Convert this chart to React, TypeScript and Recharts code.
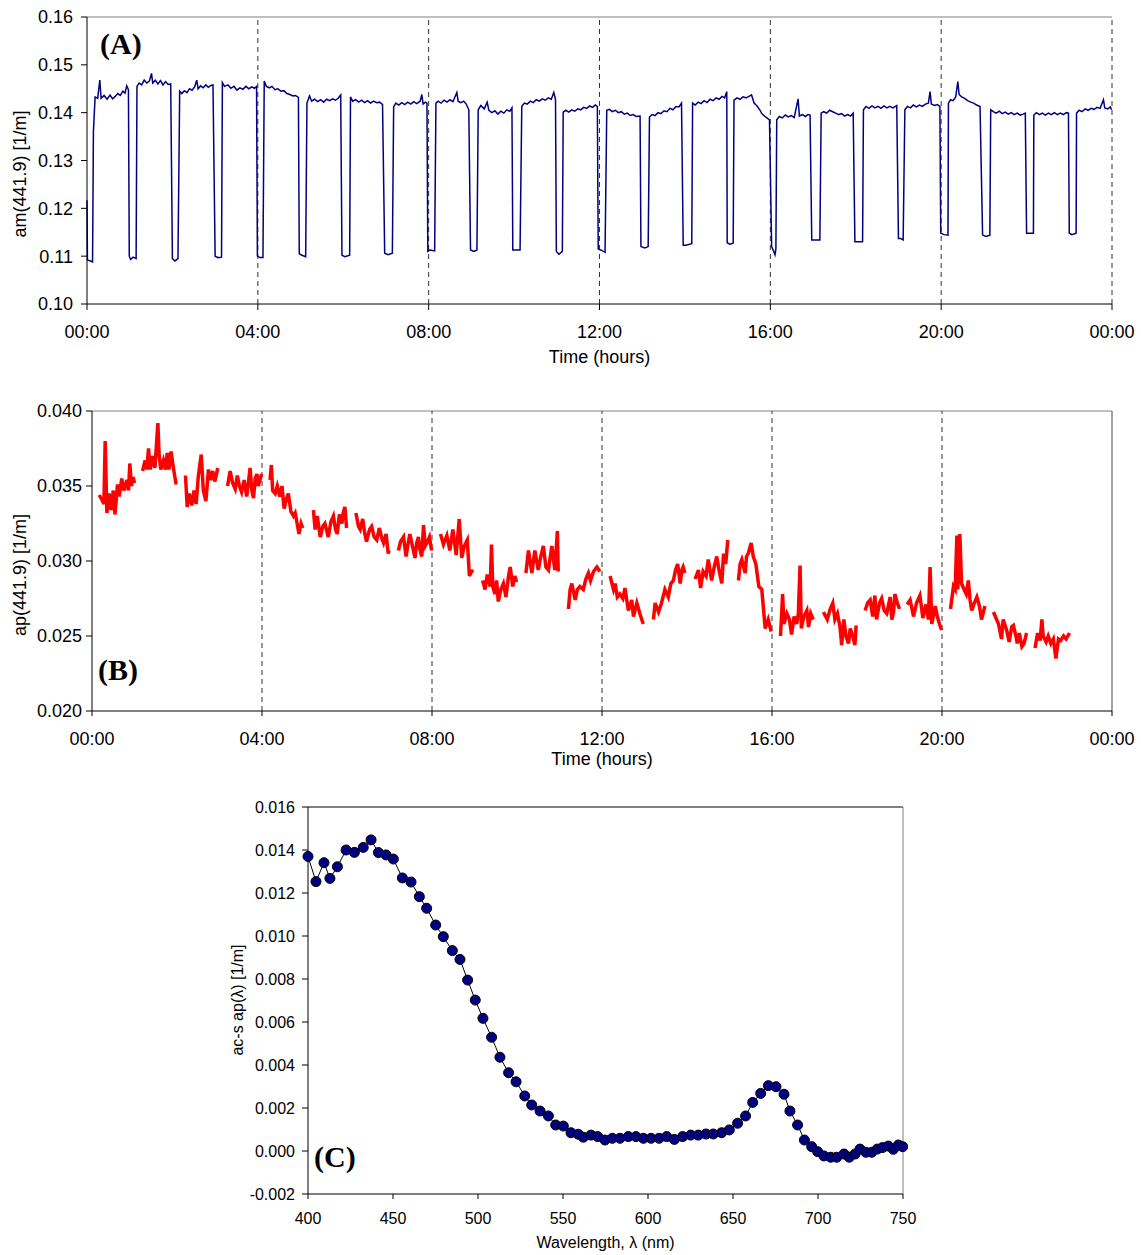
import { LineChart, Line, XAxis, YAxis, ReferenceLine } from "recharts"

// ---- shared axis settings ----
const hourTicks = [0, 4, 8, 12, 16, 20, 24]
const gridHours = [4, 8, 12, 16, 20]
const amTicks = [0.1, 0.11, 0.12, 0.13, 0.14, 0.15, 0.16]
const apTicks = [0.02, 0.025, 0.03, 0.035, 0.04]
const specTicks = [-0.002, 0, 0.002, 0.004, 0.006, 0.008, 0.01, 0.012, 0.014, 0.016]
const waveTicks = [400, 450, 500, 550, 600, 650, 700, 750]

// ---- (A) am(441.9), [hour, 1/m] ----
const amSeries: [number, number][] = [
  [0.00, 0.1217], [0.01, 0.1092], [0.08, 0.1090], [0.13, 0.1088],
  [0.15, 0.1360], [0.19, 0.1433], [0.25, 0.1430], [0.30, 0.1468], [0.33, 0.1430], [0.40, 0.1436], [0.47, 0.1428], [0.54, 0.1437], [0.60, 0.1429], [0.66, 0.1434], [0.72, 0.1440], [0.78, 0.1436], [0.84, 0.1445], [0.89, 0.1441], [0.93, 0.1456], [0.97, 0.1448],
  [0.99, 0.1100], [1.02, 0.1093], [1.08, 0.1098], [1.15, 0.1095],
  [1.17, 0.1455], [1.22, 0.1462], [1.28, 0.1458], [1.34, 0.1468], [1.40, 0.1462], [1.46, 0.1466], [1.51, 0.1482], [1.54, 0.1462], [1.60, 0.1468], [1.66, 0.1460], [1.72, 0.1467], [1.78, 0.1458], [1.84, 0.1465], [1.90, 0.1459], [1.96, 0.1460],
  [2.00, 0.1095], [2.06, 0.1090], [2.13, 0.1095],
  [2.17, 0.1445], [2.22, 0.1440], [2.28, 0.1446], [2.34, 0.1442], [2.40, 0.1450], [2.46, 0.1447], [2.52, 0.1454], [2.57, 0.1468], [2.60, 0.1450], [2.66, 0.1456], [2.72, 0.1452], [2.78, 0.1458], [2.84, 0.1453], [2.90, 0.1457], [2.95, 0.1458],
  [3.00, 0.1100], [3.07, 0.1097], [3.15, 0.1098],
  [3.17, 0.1463], [3.22, 0.1455], [3.30, 0.1458], [3.37, 0.1451], [3.44, 0.1455], [3.51, 0.1447], [3.58, 0.1452], [3.65, 0.1449], [3.72, 0.1455], [3.79, 0.1450], [3.86, 0.1454], [3.92, 0.1451], [3.97, 0.1455],
  [3.99, 0.1100], [4.05, 0.1097], [4.12, 0.1097],
  [4.15, 0.1466], [4.20, 0.1455], [4.27, 0.1452], [4.33, 0.1455], [4.40, 0.1448], [4.47, 0.1450], [4.54, 0.1445], [4.61, 0.1446], [4.68, 0.1440], [4.75, 0.1438], [4.82, 0.1435], [4.88, 0.1436], [4.95, 0.1432],
  [4.97, 0.1105], [5.03, 0.1102], [5.12, 0.1099],
  [5.15, 0.1420], [5.21, 0.1435], [5.26, 0.1424], [5.33, 0.1428], [5.40, 0.1423], [5.47, 0.1427], [5.54, 0.1422], [5.61, 0.1428], [5.68, 0.1425], [5.75, 0.1429], [5.82, 0.1426], [5.88, 0.1430], [5.94, 0.1437],
  [5.97, 0.1102], [6.04, 0.1099], [6.15, 0.1102],
  [6.17, 0.1433], [6.22, 0.1424], [6.29, 0.1427], [6.36, 0.1422], [6.43, 0.1426], [6.50, 0.1421], [6.57, 0.1425], [6.64, 0.1420], [6.71, 0.1424], [6.78, 0.1421], [6.85, 0.1422], [6.92, 0.1417],
  [6.97, 0.1106], [7.05, 0.1103], [7.15, 0.1106],
  [7.18, 0.1412], [7.23, 0.1420], [7.30, 0.1416], [7.37, 0.1421], [7.44, 0.1417], [7.51, 0.1422], [7.58, 0.1418], [7.65, 0.1423], [7.72, 0.1419], [7.80, 0.1424], [7.84, 0.1438], [7.87, 0.1418], [7.92, 0.1422], [7.96, 0.1420],
  [7.98, 0.1110], [8.03, 0.1113], [8.14, 0.1111],
  [8.17, 0.1420], [8.22, 0.1424], [8.29, 0.1420], [8.36, 0.1426], [8.43, 0.1422], [8.50, 0.1427], [8.57, 0.1423], [8.66, 0.1442], [8.69, 0.1424], [8.75, 0.1421], [8.82, 0.1424], [8.88, 0.1418], [8.94, 0.1406],
  [8.98, 0.1113], [9.06, 0.1110], [9.13, 0.1113],
  [9.16, 0.1406], [9.22, 0.1415], [9.30, 0.1408], [9.37, 0.1422], [9.41, 0.1405], [9.48, 0.1400], [9.55, 0.1404], [9.62, 0.1397], [9.69, 0.1403], [9.76, 0.1399], [9.83, 0.1406], [9.90, 0.1403], [9.95, 0.1410],
  [9.97, 0.1113], [10.04, 0.1113], [10.14, 0.1113],
  [10.18, 0.1413], [10.24, 0.1420], [10.31, 0.1418], [10.38, 0.1424], [10.45, 0.1421], [10.52, 0.1427], [10.59, 0.1424], [10.66, 0.1429], [10.73, 0.1426], [10.80, 0.1431], [10.87, 0.1428], [10.93, 0.1442], [10.97, 0.1428],
  [10.99, 0.1110], [11.05, 0.1104], [11.13, 0.1110],
  [11.15, 0.1401], [11.21, 0.1405], [11.28, 0.1401], [11.35, 0.1406], [11.42, 0.1403], [11.49, 0.1408], [11.56, 0.1406], [11.63, 0.1411], [11.70, 0.1409], [11.77, 0.1414], [11.84, 0.1411], [11.90, 0.1416], [11.95, 0.1413],
  [11.97, 0.1115], [12.03, 0.1113], [12.13, 0.1108],
  [12.17, 0.1405], [12.23, 0.1407], [12.30, 0.1402], [12.37, 0.1405], [12.44, 0.1400], [12.51, 0.1402], [12.58, 0.1397], [12.65, 0.1399], [12.72, 0.1394], [12.79, 0.1396], [12.86, 0.1392], [12.95, 0.1393],
  [12.97, 0.1120], [13.06, 0.1117], [13.14, 0.1120],
  [13.17, 0.1391], [13.23, 0.1396], [13.30, 0.1394], [13.37, 0.1400], [13.44, 0.1398], [13.51, 0.1404], [13.58, 0.1402], [13.65, 0.1409], [13.72, 0.1406], [13.79, 0.1413], [13.86, 0.1412], [13.92, 0.1420],
  [13.96, 0.1123], [14.02, 0.1123], [14.16, 0.1126],
  [14.18, 0.1420], [14.24, 0.1416], [14.31, 0.1422], [14.38, 0.1419], [14.45, 0.1425], [14.52, 0.1421], [14.59, 0.1428], [14.66, 0.1425], [14.73, 0.1431], [14.80, 0.1428], [14.87, 0.1434], [14.93, 0.1431], [14.98, 0.1444],
  [14.99, 0.1128], [15.05, 0.1125], [15.13, 0.1127],
  [15.15, 0.1426], [15.22, 0.1431], [15.29, 0.1428], [15.36, 0.1433], [15.43, 0.1431], [15.50, 0.1434], [15.56, 0.1437], [15.62, 0.1420], [15.69, 0.1414], [15.76, 0.1405], [15.80, 0.1398], [15.86, 0.1393], [15.92, 0.1389], [15.98, 0.1385],
  [16.00, 0.1280], [16.03, 0.1120], [16.08, 0.1110], [16.11, 0.1103], [16.13, 0.1115],
  [16.15, 0.1385], [16.21, 0.1392], [16.28, 0.1389], [16.35, 0.1395], [16.42, 0.1391], [16.49, 0.1394], [16.56, 0.1390], [16.65, 0.1429], [16.68, 0.1393], [16.75, 0.1396], [16.82, 0.1392], [16.88, 0.1396], [16.93, 0.1395],
  [16.97, 0.1134], [17.05, 0.1134], [17.16, 0.1134],
  [17.19, 0.1399], [17.25, 0.1402], [17.32, 0.1399], [17.39, 0.1405], [17.46, 0.1402], [17.53, 0.1399], [17.60, 0.1396], [17.67, 0.1398], [17.74, 0.1393], [17.81, 0.1396], [17.88, 0.1393], [17.94, 0.1399],
  [17.98, 0.1130], [18.05, 0.1130], [18.16, 0.1130],
  [18.18, 0.1406], [18.24, 0.1413], [18.31, 0.1409], [18.38, 0.1414], [18.45, 0.1410], [18.52, 0.1413], [18.59, 0.1409], [18.66, 0.1414], [18.73, 0.1410], [18.80, 0.1413], [18.87, 0.1410], [18.96, 0.1415],
  [19.00, 0.1137], [19.05, 0.1137], [19.11, 0.1134],
  [19.15, 0.1406], [19.21, 0.1413], [19.28, 0.1410], [19.35, 0.1416], [19.42, 0.1412], [19.49, 0.1416], [19.56, 0.1413], [19.63, 0.1418], [19.70, 0.1420], [19.74, 0.1444], [19.77, 0.1418], [19.84, 0.1415], [19.91, 0.1417], [19.97, 0.1413],
  [19.99, 0.1148], [20.07, 0.1145], [20.16, 0.1144],
  [20.17, 0.1420], [20.22, 0.1427], [20.28, 0.1425], [20.34, 0.1433], [20.39, 0.1465], [20.42, 0.1438], [20.48, 0.1433], [20.55, 0.1430], [20.62, 0.1425], [20.69, 0.1422], [20.76, 0.1420], [20.83, 0.1416], [20.91, 0.1413],
  [20.97, 0.1144], [21.05, 0.1141], [21.14, 0.1144],
  [21.16, 0.1406], [21.22, 0.1402], [21.29, 0.1399], [21.36, 0.1403], [21.43, 0.1398], [21.50, 0.1401], [21.57, 0.1397], [21.64, 0.1400], [21.71, 0.1396], [21.78, 0.1399], [21.85, 0.1395], [21.92, 0.1397], [21.97, 0.1399],
  [22.00, 0.1148], [22.08, 0.1148], [22.16, 0.1148],
  [22.17, 0.1395], [22.23, 0.1400], [22.30, 0.1396], [22.37, 0.1399], [22.44, 0.1395], [22.51, 0.1399], [22.58, 0.1396], [22.65, 0.1400], [22.72, 0.1396], [22.79, 0.1399], [22.86, 0.1396], [22.93, 0.1400], [22.98, 0.1399],
  [23.00, 0.1148], [23.06, 0.1145], [23.16, 0.1148],
  [23.17, 0.1399], [23.23, 0.1405], [23.30, 0.1402], [23.37, 0.1408], [23.44, 0.1405], [23.51, 0.1409], [23.58, 0.1407], [23.65, 0.1411], [23.72, 0.1409], [23.80, 0.1427], [23.83, 0.1410], [23.90, 0.1408], [23.96, 0.1412], [23.99, 0.1406],
]

// ---- (B) ap(441.9), [hour, 1/m]; null = filter period (gap) ----
const apSeries: [number, number | null][] = [
  [0.17, 0.0344], [0.23, 0.0341], [0.28, 0.0338], [0.31, 0.0380], [0.35, 0.0332], [0.40, 0.0345], [0.45, 0.0334], [0.50, 0.0347], [0.54, 0.0331], [0.60, 0.0351], [0.64, 0.0343], [0.70, 0.0355], [0.75, 0.0347], [0.82, 0.0354], [0.86, 0.0347], [0.89, 0.0365], [0.93, 0.0350], [0.97, 0.0356], [1.00, 0.0352],
  [1.09, null],
  [1.19, 0.0360], [1.25, 0.0367], [1.29, 0.0361], [1.33, 0.0375], [1.37, 0.0361], [1.43, 0.0370], [1.48, 0.0362], [1.55, 0.0392], [1.58, 0.0370], [1.62, 0.0361], [1.68, 0.0367], [1.73, 0.0361], [1.77, 0.0372], [1.81, 0.0361], [1.86, 0.0373], [1.91, 0.0363], [1.95, 0.0356], [1.98, 0.0351],
  [2.09, null],
  [2.20, 0.0357], [2.24, 0.0336], [2.29, 0.0345], [2.35, 0.0337], [2.40, 0.0347], [2.45, 0.0338], [2.50, 0.0356], [2.57, 0.0371], [2.62, 0.0347], [2.68, 0.0340], [2.74, 0.0361], [2.79, 0.0354], [2.84, 0.0360], [2.89, 0.0353], [2.96, 0.0362],
  [3.07, null],
  [3.19, 0.0350], [3.25, 0.0360], [3.31, 0.0352], [3.37, 0.0348], [3.42, 0.0357], [3.47, 0.0350], [3.52, 0.0346], [3.58, 0.0354], [3.64, 0.0343], [3.68, 0.0352], [3.72, 0.0362], [3.76, 0.0347], [3.80, 0.0342], [3.84, 0.0355], [3.88, 0.0358], [3.91, 0.0350], [3.95, 0.0354], [3.99, 0.0358],
  [4.09, null],
  [4.19, 0.0354], [4.22, 0.0364], [4.25, 0.0347], [4.31, 0.0345], [4.36, 0.0350], [4.42, 0.0343], [4.47, 0.0350], [4.52, 0.0335], [4.57, 0.0341], [4.62, 0.0345], [4.68, 0.0333], [4.74, 0.0330], [4.78, 0.0332], [4.82, 0.0326], [4.87, 0.0318], [4.92, 0.0325], [4.96, 0.0322],
  [5.08, null],
  [5.21, 0.0334], [5.25, 0.0321], [5.30, 0.0330], [5.37, 0.0316], [5.43, 0.0323], [5.48, 0.0325], [5.56, 0.0316], [5.62, 0.0326], [5.68, 0.0330], [5.73, 0.0321], [5.77, 0.0318], [5.82, 0.0331], [5.88, 0.0325], [5.91, 0.0332], [5.95, 0.0336], [5.99, 0.0322],
  [6.10, null],
  [6.21, 0.0332], [6.27, 0.0323], [6.31, 0.0321], [6.37, 0.0328], [6.42, 0.0318], [6.46, 0.0313], [6.53, 0.0321], [6.58, 0.0323], [6.64, 0.0316], [6.70, 0.0314], [6.76, 0.0322], [6.82, 0.0315], [6.86, 0.0312], [6.92, 0.0318], [6.97, 0.0305], [6.99, 0.0307],
  [7.10, null],
  [7.21, 0.0307], [7.26, 0.0313], [7.33, 0.0316], [7.39, 0.0303], [7.44, 0.0312], [7.48, 0.0318], [7.54, 0.0310], [7.60, 0.0302], [7.64, 0.0312], [7.68, 0.0316], [7.72, 0.0307], [7.76, 0.0303], [7.80, 0.0324], [7.84, 0.0310], [7.88, 0.0312], [7.94, 0.0316], [7.99, 0.0307],
  [8.10, null],
  [8.20, 0.0318], [8.27, 0.0311], [8.35, 0.0317], [8.42, 0.0307], [8.49, 0.0321], [8.57, 0.0304], [8.64, 0.0328], [8.70, 0.0302], [8.76, 0.0310], [8.83, 0.0314], [8.88, 0.0290], [8.93, 0.0293], [8.97, 0.0294],
  [9.08, null],
  [9.19, 0.0287], [9.25, 0.0281], [9.30, 0.0291], [9.37, 0.0283], [9.40, 0.0311], [9.43, 0.0283], [9.48, 0.0278], [9.52, 0.0287], [9.56, 0.0273], [9.62, 0.0281], [9.68, 0.0285], [9.74, 0.0276], [9.80, 0.0290], [9.84, 0.0296], [9.90, 0.0283], [9.95, 0.0290], [9.99, 0.0286],
  [10.10, null],
  [10.21, 0.0292], [10.27, 0.0307], [10.35, 0.0292], [10.42, 0.0307], [10.50, 0.0294], [10.56, 0.0303], [10.62, 0.0310], [10.68, 0.0296], [10.74, 0.0294], [10.82, 0.0310], [10.89, 0.0294], [10.95, 0.0320], [10.97, 0.0293],
  [11.09, null],
  [11.21, 0.0268], [11.25, 0.0281], [11.29, 0.0285], [11.37, 0.0274], [11.42, 0.0281], [11.48, 0.0283], [11.56, 0.0281], [11.62, 0.0288], [11.68, 0.0292], [11.73, 0.0287], [11.80, 0.0293], [11.88, 0.0296], [11.95, 0.0293],
  [12.07, null],
  [12.19, 0.0290], [12.27, 0.0281], [12.31, 0.0285], [12.36, 0.0276], [12.42, 0.0278], [12.49, 0.0275], [12.54, 0.0282], [12.62, 0.0267], [12.70, 0.0274], [12.74, 0.0263], [12.82, 0.0272], [12.89, 0.0265], [12.97, 0.0258],
  [13.09, null],
  [13.21, 0.0261], [13.25, 0.0272], [13.33, 0.0266], [13.40, 0.0272], [13.48, 0.0281], [13.56, 0.0276], [13.62, 0.0285], [13.68, 0.0287], [13.73, 0.0294], [13.78, 0.0298], [13.84, 0.0285], [13.88, 0.0294], [13.91, 0.0296], [13.95, 0.0292],
  [14.07, null],
  [14.19, 0.0288], [14.27, 0.0294], [14.32, 0.0282], [14.38, 0.0293], [14.45, 0.0290], [14.50, 0.0301], [14.58, 0.0287], [14.64, 0.0296], [14.70, 0.0303], [14.76, 0.0293], [14.82, 0.0285], [14.86, 0.0305], [14.91, 0.0298], [14.96, 0.0314],
  [15.08, null],
  [15.21, 0.0287], [15.25, 0.0298], [15.29, 0.0301], [15.37, 0.0292], [15.40, 0.0303], [15.44, 0.0305], [15.51, 0.0312], [15.56, 0.0303], [15.62, 0.0298], [15.69, 0.0283], [15.76, 0.0281], [15.84, 0.0255], [15.91, 0.0261], [15.98, 0.0253],
  [16.09, null],
  [16.20, 0.0250], [16.25, 0.0278], [16.28, 0.0258], [16.35, 0.0265], [16.41, 0.0261], [16.46, 0.0251], [16.52, 0.0263], [16.58, 0.0258], [16.62, 0.0265], [16.66, 0.0297], [16.69, 0.0255], [16.75, 0.0263], [16.82, 0.0267], [16.86, 0.0256], [16.91, 0.0265], [16.97, 0.0261],
  [17.09, null],
  [17.21, 0.0266], [17.30, 0.0261], [17.37, 0.0268], [17.43, 0.0272], [17.48, 0.0261], [17.54, 0.0265], [17.60, 0.0256], [17.64, 0.0244], [17.69, 0.0261], [17.74, 0.0250], [17.80, 0.0245], [17.84, 0.0255], [17.90, 0.0250], [17.95, 0.0244], [17.98, 0.0257],
  [18.08, null],
  [18.19, 0.0267], [18.25, 0.0272], [18.31, 0.0274], [18.37, 0.0263], [18.42, 0.0277], [18.46, 0.0261], [18.53, 0.0272], [18.58, 0.0275], [18.64, 0.0267], [18.70, 0.0265], [18.78, 0.0276], [18.82, 0.0261], [18.86, 0.0266], [18.89, 0.0278], [18.95, 0.0272], [19.00, 0.0268],
  [19.09, null],
  [19.18, 0.0271], [19.25, 0.0274], [19.33, 0.0263], [19.40, 0.0272], [19.48, 0.0277], [19.55, 0.0262], [19.62, 0.0271], [19.68, 0.0261], [19.72, 0.0296], [19.76, 0.0258], [19.84, 0.0270], [19.89, 0.0263], [19.94, 0.0258], [19.99, 0.0254],
  [20.10, null],
  [20.20, 0.0268], [20.27, 0.0283], [20.31, 0.0281], [20.35, 0.0317], [20.37, 0.0281], [20.42, 0.0318], [20.46, 0.0285], [20.52, 0.0281], [20.57, 0.0278], [20.62, 0.0287], [20.66, 0.0274], [20.70, 0.0267], [20.76, 0.0272], [20.82, 0.0276], [20.88, 0.0270], [20.93, 0.0261], [21.01, 0.0270],
  [21.10, null],
  [21.21, 0.0266], [21.27, 0.0262], [21.33, 0.0258], [21.40, 0.0248], [21.44, 0.0261], [21.52, 0.0254], [21.58, 0.0246], [21.64, 0.0256], [21.68, 0.0257], [21.74, 0.0250], [21.77, 0.0245], [21.82, 0.0252], [21.88, 0.0243], [21.93, 0.0245], [21.99, 0.0252],
  [22.09, null],
  [22.19, 0.0242], [22.25, 0.0252], [22.31, 0.0247], [22.35, 0.0261], [22.38, 0.0250], [22.45, 0.0246], [22.50, 0.0250], [22.56, 0.0245], [22.62, 0.0248], [22.68, 0.0235], [22.74, 0.0248], [22.79, 0.0247], [22.86, 0.0250], [22.92, 0.0248], [23.00, 0.0252],
]

// ---- (C) ac-s particulate absorption spectrum ----
const wavelengths = [
  400.0, 404.7, 409.4, 412.9, 417.3, 422.4, 427.3, 432.5, 437.1, 441.4, 445.9, 450.2,
  455.5, 460.6, 465.5, 469.8, 475.1, 479.6, 484.9, 489.4, 493.9, 498.4, 502.9,
  508.0, 512.9, 518.0, 522.4, 527.5, 531.6, 536.5, 541.4, 545.7,
  550.2, 554.7, 559.0,
  562.0, 566.5, 570.4, 574.7, 579.0, 583.5, 588.4, 592.9, 597.3,
  601.8, 606.5, 611.0, 615.5, 620.4, 625.1, 629.6, 634.1, 638.4, 643.3, 647.8,
  652.7, 657.4, 661.6, 666.3, 670.8, 675.3, 680.0, 683.5, 688.0,
  692.0, 696.3, 699.8, 703.5, 707.5, 711.0, 715.3, 718.4, 721.8, 724.7, 728.2,
  731.6, 734.9, 738.0, 741.4, 744.3, 747.3, 749.8,
]
const apSpectrum = [
  0.01370, 0.01253, 0.01341, 0.01268, 0.01322, 0.01400, 0.01389, 0.01412, 0.01447, 0.01388, 0.01377, 0.01358,
  0.01270, 0.01251, 0.01183, 0.01129, 0.01051, 0.00997, 0.00932, 0.00891, 0.00795, 0.00702, 0.00617,
  0.00529, 0.00436, 0.00364, 0.00322, 0.00256, 0.00214, 0.00186, 0.00163, 0.00121,
  0.00116, 0.00085, 0.00078,
  0.00064, 0.00074, 0.00067, 0.00051, 0.00059, 0.00059, 0.00067, 0.00067, 0.00059,
  0.00059, 0.00059, 0.00067, 0.00054, 0.00067, 0.00074, 0.00074, 0.00079, 0.00079, 0.00085, 0.00098,
  0.00129, 0.00163, 0.00226, 0.00268, 0.00304, 0.00299, 0.00264, 0.00186, 0.00121,
  0.00051, 0.00020, -0.00003, -0.00023, -0.00029, -0.00029, -0.00014, -0.00029, -0.00014, 0.00009, -0.00006,
  -0.00006, 0.00009, 0.00016, 0.00023, 0.00008, 0.00028, 0.00020,
]

const rowsA = amSeries.map(([t, v]) => ({ t, v }))
const rowsB = apSeries.map(([t, v]) => ({ t, v }))
const rowsC = wavelengths.map((w, i) => ({ w, v: apSpectrum[i] }))

const SANS = "'Liberation Sans', Arial, sans-serif"
const SERIF = "'Liberation Serif', 'Times New Roman', serif"
const fmtHour = (h: number) => String(h % 24).padStart(2, "0") + ":00"

const tickStyle = (size: number) => ({ fill: "#000", fontSize: size, fontFamily: SANS })

// rotated y-axis title placed at a fixed spot inside the chart svg
const yTitle = (text: string, x: number, y: number, size: number) => () =>
  (
    <text
      x={x}
      y={y}
      transform={`rotate(-90, ${x}, ${y})`}
      textAnchor="middle"
      dominantBaseline="central"
      fill="#000"
      fontSize={size}
      fontFamily={SANS}
    >
      {text}
    </text>
  )

const panelTag = (text: string, left: number, top: number) => (
  <div
    style={{
      position: "absolute",
      left,
      top,
      fontFamily: SERIF,
      fontWeight: "bold",
      fontSize: 30,
      lineHeight: 1,
      color: "#000",
    }}
  >
    {text}
  </div>
)

function App() {
  return (
    <div style={{ position: "absolute", left: 0, top: 0, width: 1141, height: 1255, background: "#fff" }}>
      {/* (A) */}
      <div style={{ position: "absolute", left: 0, top: 0 }}>
        <LineChart width={1141} height={380} data={rowsA} margin={{ top: 17, right: 29, bottom: 46, left: 0 }}>
          <XAxis
            dataKey="t"
            type="number"
            domain={[0, 24]}
            ticks={hourTicks}
            interval={0}
            tickFormatter={fmtHour}
            height={30}
            tickSize={6}
            tickMargin={15}
            stroke="#000"
            tick={tickStyle(18)}
            label={{ value: "Time (hours)", position: "bottom", offset: 16, fill: "#000", fontSize: 18, fontFamily: SANS }}
          />
          <YAxis
            type="number"
            domain={[0.1, 0.16]}
            ticks={amTicks}
            interval={0}
            tickFormatter={(v: number) => v.toFixed(2)}
            width={87}
            tickSize={6}
            tickMargin={8}
            stroke="#000"
            tick={tickStyle(18)}
            label={{ content: yTitle("am(441.9) [1/m]", 20, 174, 18) }}
          />
          <ReferenceLine y={0.16} stroke="#808080" />
          {gridHours.map((h) => (
            <ReferenceLine key={h} x={h} stroke="#333" strokeDasharray="5 4" />
          ))}
          <ReferenceLine x={24} stroke="#333" strokeDasharray="5 4" />
          <Line dataKey="v" stroke="#000080" strokeWidth={1.5} dot={false} isAnimationActive={false} />
        </LineChart>
      </div>

      {/* (B) */}
      <div style={{ position: "absolute", left: 0, top: 380 }}>
        <LineChart width={1141} height={400} data={rowsB} margin={{ top: 31, right: 29, bottom: 39, left: 0 }}>
          <XAxis
            dataKey="t"
            type="number"
            domain={[0, 24]}
            ticks={hourTicks}
            interval={0}
            tickFormatter={fmtHour}
            height={30}
            tickSize={5}
            tickMargin={16}
            stroke="#000"
            tick={tickStyle(18)}
            label={{ value: "Time (hours)", position: "bottom", offset: 11, fill: "#000", fontSize: 18, fontFamily: SANS }}
          />
          <YAxis
            type="number"
            domain={[0.02, 0.04]}
            ticks={apTicks}
            interval={0}
            tickFormatter={(v: number) => v.toFixed(3)}
            width={92}
            tickSize={6}
            tickMargin={4}
            stroke="#000"
            tick={tickStyle(18)}
            label={{ content: yTitle("ap(441.9) [1/m]", 20, 195, 18) }}
          />
          <ReferenceLine y={0.04} stroke="#808080" />
          <ReferenceLine x={24} stroke="#444" />
          {gridHours.map((h) => (
            <ReferenceLine key={h} x={h} stroke="#333" strokeDasharray="5 4" />
          ))}
          <Line dataKey="v" stroke="#ff0000" strokeWidth={3.5} dot={false} isAnimationActive={false} />
        </LineChart>
      </div>

      {/* (C) */}
      <div style={{ position: "absolute", left: 200, top: 780 }}>
        <LineChart width={741} height={475} data={rowsC} margin={{ top: 27, right: 38, bottom: 31, left: 0 }}>
          <XAxis
            dataKey="w"
            type="number"
            domain={[400, 750]}
            ticks={waveTicks}
            interval={0}
            height={30}
            tickSize={5}
            tickMargin={14}
            stroke="#000"
            tick={tickStyle(16)}
            label={{ value: "Wavelength, λ (nm)", position: "bottom", offset: 13, fill: "#000", fontSize: 16, fontFamily: SANS }}
          />
          <YAxis
            type="number"
            domain={[-0.002, 0.016]}
            ticks={specTicks}
            interval={0}
            tickFormatter={(v: number) => v.toFixed(3)}
            width={108}
            tickSize={6}
            tickMargin={7}
            stroke="#000"
            tick={tickStyle(16)}
            label={{ content: yTitle("ac-s ap(λ) [1/m]", 37, 220, 16) }}
          />
          <ReferenceLine y={0.016} stroke="#000" />
          <ReferenceLine x={750} stroke="#808080" />
          <Line
            dataKey="v"
            stroke="#000"
            strokeWidth={1}
            dot={{ r: 5, fill: "#000080", stroke: "#000", strokeWidth: 1 }}
            isAnimationActive={false}
          />
        </LineChart>
      </div>

      {panelTag("(A)", 100, 29)}
      {panelTag("(B)", 98, 655)}
      {panelTag("(C)", 314, 1142)}
    </div>
  )
}

export default App
